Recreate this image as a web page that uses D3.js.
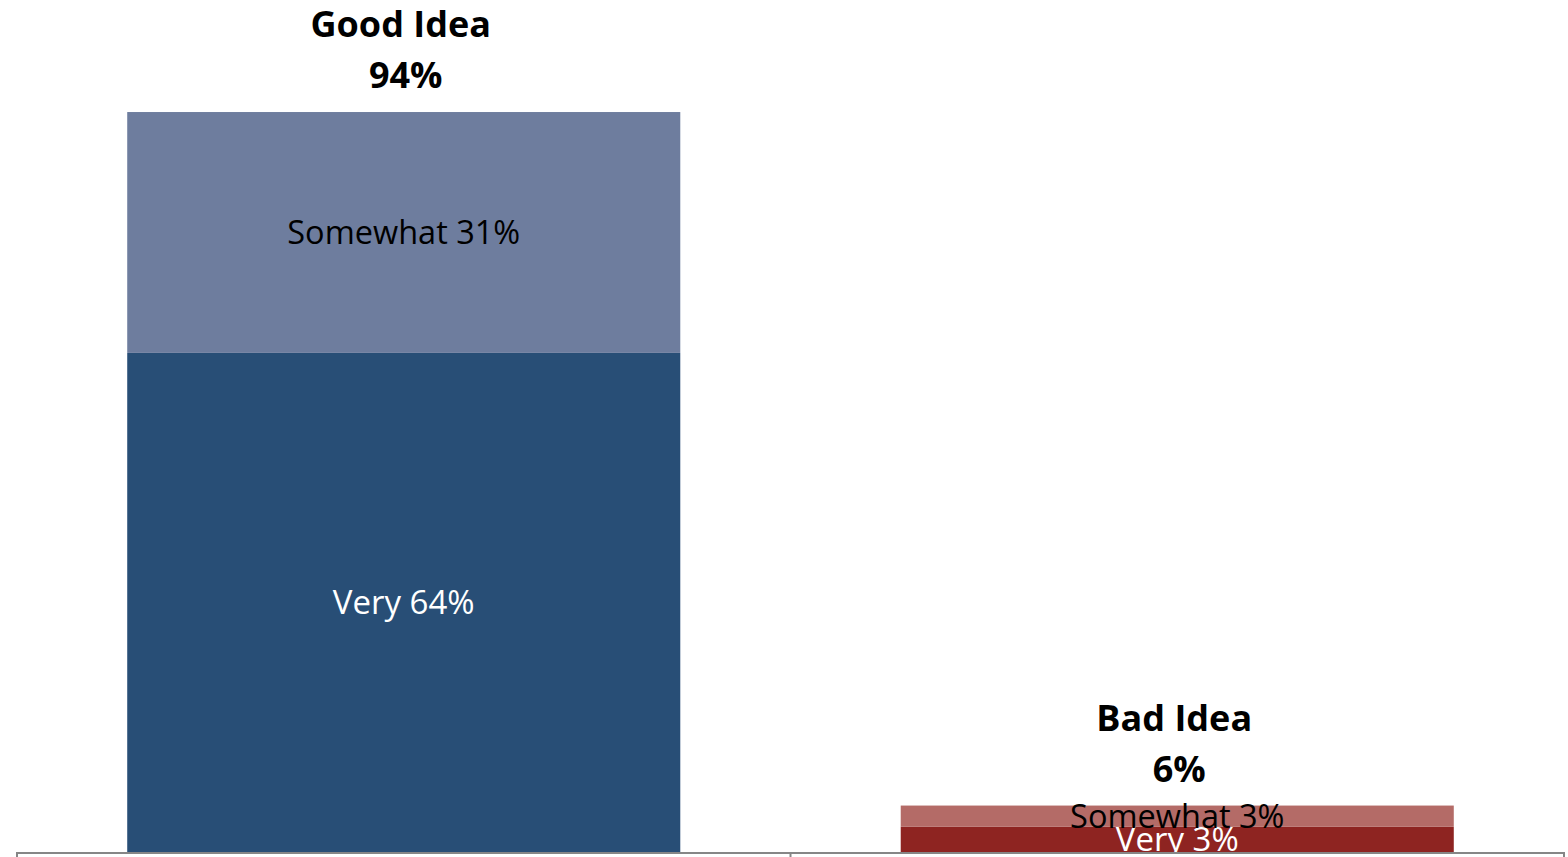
<!DOCTYPE html>
<html><head><meta charset="utf-8">
<script src="https://cdn.jsdelivr.net/npm/d3@7"></script>
<style>html,body{margin:0;padding:0;background:#fff;}svg{display:block;}</style>
</head><body>
<svg id="chart" width="1568" height="857"></svg>
<script>
const categories = ["Good Idea", "Bad Idea"];
const totalLabels = ["94%", "6%"];
const veryValues = [63.4, 3.2];
const somewhatValues = [30.6, 2.7];
const veryLabels = ["Very 64%", "Very 3%"];
const somewhatLabels = ["Somewhat 31%", "Somewhat 3%"];

const W = 1568, H = 857;
const left = 17, right = 1564, bottom = 852;
const font = "'Open Sans', 'Noto Sans', sans-serif";

const svg = d3.select("#chart");
const x = d3.scaleBand().domain(categories).range([left, right]).paddingInner(0.285).paddingOuter(0.1425);
const y = d3.scaleLinear().domain([0, 100]).range([bottom, bottom - 787.2]);

const data = categories.map((c, i) => ({
  cat: c, very: veryValues[i], some: somewhatValues[i],
  vl: veryLabels[i], sl: somewhatLabels[i], tl: totalLabels[i]
}));
const veryColors = ["#284E76", "#8E2421"];
const someColors = ["#6E7D9E", "#B46B67"];

svg.append("defs").append("clipPath").attr("id", "plotclip")
  .append("rect").attr("x", 0).attr("y", 0).attr("width", W).attr("height", bottom);

const g = svg.append("g").attr("clip-path", "url(#plotclip)");

data.forEach((d, i) => {
  const x0 = x(d.cat), bw = x.bandwidth(), cx = x0 + bw / 2;
  g.append("rect").attr("x", x0).attr("width", bw)
    .attr("y", y(d.very)).attr("height", y(0) - y(d.very)).attr("fill", veryColors[i]);
  g.append("rect").attr("x", x0).attr("width", bw)
    .attr("y", y(d.very + d.some)).attr("height", y(d.very) - y(d.very + d.some)).attr("fill", someColors[i]);
  g.append("text").attr("x", cx).attr("y", (y(0) + y(d.very)) / 2)
    .attr("dy", "0.36em").attr("text-anchor", "middle")
    .style("font-family", font).style("font-size", "33px").attr("fill", "#ffffff").text(d.vl);
  g.append("text").attr("x", cx).attr("y", (y(d.very) + y(d.very + d.some)) / 2)
    .attr("dy", "0.36em").attr("text-anchor", "middle")
    .style("font-family", font).style("font-size", "32.5px").attr("fill", "#000000").text(d.sl);
  const top = y(d.very + d.some);
  svg.append("text").attr("x", cx - 3).attr("y", top - 75).attr("text-anchor", "middle")
    .style("font-family", font).style("font-size", "36px").style("font-weight", "bold")
    .attr("fill", "#000").text(d.cat);
  svg.append("text").attr("x", cx + 2).attr("y", top - 24).attr("text-anchor", "middle")
    .style("font-family", font).style("font-size", "36px").style("font-weight", "bold")
    .attr("fill", "#000").text(d.tl);
});

const axisColor = "#868686";
svg.append("line").attr("x1", left).attr("x2", right).attr("y1", bottom + 1).attr("y2", bottom + 1)
  .attr("stroke", axisColor).attr("stroke-width", 2);
const tickPos = [left].concat(categories.map(c => x(c) + x.bandwidth() / 2 + x.step() / 2));
svg.selectAll(".tick").data(tickPos).enter().append("line")
  .attr("x1", d => d).attr("x2", d => d).attr("y1", bottom).attr("y2", H)
  .attr("stroke", axisColor).attr("stroke-width", 2);
</script>
</body></html>
